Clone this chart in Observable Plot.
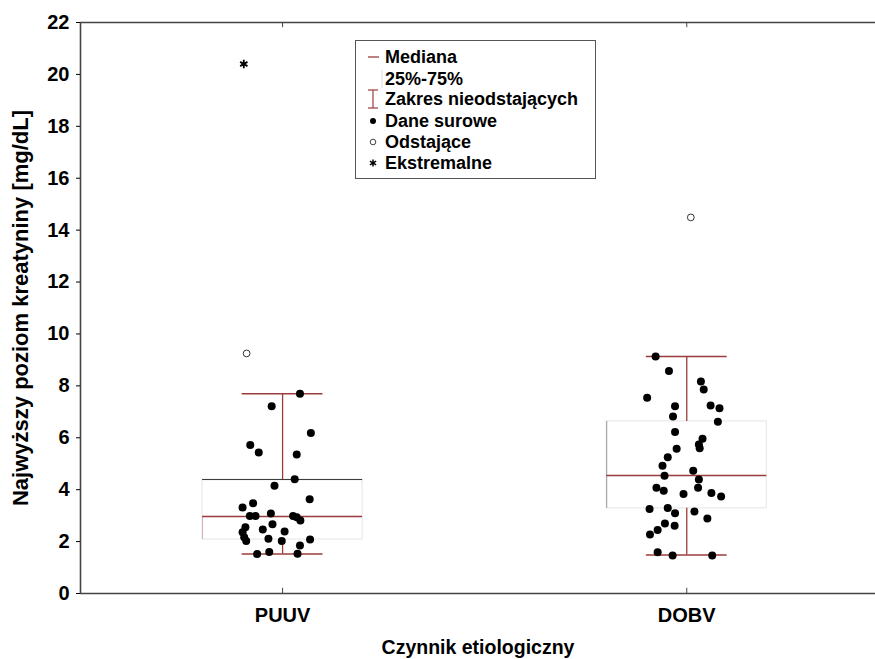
<!DOCTYPE html>
<html>
<head>
<meta charset="utf-8">
<script src="https://cdn.jsdelivr.net/npm/d3@7"></script>
<script src="https://cdn.jsdelivr.net/npm/@observablehq/plot@0.6"></script>
<style>
  html, body { margin: 0; padding: 0; background: #fff; }
  #wrap { position: relative; width: 875px; height: 659px; font-family: "Liberation Sans", Arial, sans-serif; }
  #wrap svg text { font-weight: bold; }
  #legend { position: absolute; left: 355px; top: 40px; width: 239px; height: 137px; border: 1.5px solid #555; background: #fff; }
</style>
</head>
<body>
<div id="wrap"></div>
<script>
// ---- data ----
const categories = ["PUUV", "DOBV"];
const median = [2.97, 4.55];
const q1 = [2.08, 3.28];
const q3 = [4.39, 6.63];
const whiskerLow = [1.52, 1.48];
const whiskerHigh = [7.70, 9.13];
const outlierValues = [9.25, 14.49];
const outlierJitter = [-0.089, 0.010];
const extremeValues = [20.4];
const extremeJitter = [-0.096];

const puuvValues = [7.70, 7.21, 6.18, 5.72, 5.43, 5.36, 4.40, 4.15, 3.63, 3.48, 3.31, 2.99, 2.99, 3.08, 2.99, 2.94, 2.81, 2.67, 2.55, 2.47, 2.39, 2.36, 2.17, 2.11, 2.02, 2.02, 2.08, 1.85, 1.52, 1.60, 1.53];
const puuvJitter = [0.043, -0.027, 0.070, -0.080, -0.059, 0.035, 0.030, -0.020, 0.067, -0.073, -0.099, -0.081, -0.067, -0.029, 0.026, 0.035, 0.044, -0.025, -0.092, -0.049, 0.005, -0.099, -0.095, -0.035, -0.090, -0.002, 0.068, 0.043, -0.063, -0.033, 0.037];
const dobvValues = [9.13, 8.57, 8.17, 7.86, 7.54, 7.21, 7.24, 7.14, 6.82, 6.62, 6.22, 5.96, 5.74, 5.60, 5.58, 5.25, 4.92, 4.54, 4.73, 4.39, 4.07, 4.07, 3.96, 3.83, 3.87, 3.74, 3.26, 3.29, 3.09, 3.16, 2.89, 2.70, 2.61, 2.45, 2.27, 1.59, 1.46, 1.46];
const dobvJitter = [-0.077, -0.044, 0.035, 0.042, -0.098, -0.029, 0.059, 0.081, -0.034, 0.077, -0.029, 0.039, 0.030, 0.032, -0.025, -0.047, -0.060, -0.055, 0.016, 0.030, 0.028, -0.075, -0.057, -0.008, 0.061, 0.085, -0.092, -0.047, -0.029, 0.019, 0.051, -0.054, -0.030, -0.072, -0.091, -0.072, -0.035, 0.063];
const yTicks = [0, 2, 4, 6, 8, 10, 12, 14, 16, 18, 20, 22];

// ---- tables ----
const stats = categories.map((c, i) => ({
  cat: c, pos: i + 1, median: median[i], q1: q1[i], q3: q3[i], lo: whiskerLow[i], hi: whiskerHigh[i]
}));
const raw = [
  ...puuvValues.map((v, i) => ({ pos: 1 + puuvJitter[i], v })),
  ...dobvValues.map((v, i) => ({ pos: 2 + dobvJitter[i], v }))
];
const outliers = outlierValues.map((v, i) => ({ pos: i + 1 + outlierJitter[i], v }));
const extremes = extremeValues.map((v, i) => ({ pos: i + 1 + extremeJitter[i], v }));

const RED = "#9c3b3b";
const BOXW = 0.198, CAPW = 0.1;

const chart = Plot.plot({
  width: 875,
  height: 659,
  marginLeft: 80,
  marginRight: 0,
  marginTop: 22,
  marginBottom: 66,
  style: { fontFamily: "'Liberation Sans', Arial, sans-serif", color: "#000", background: "#fff" },
  x: { domain: [0.5, 2.467] },
  y: { domain: [0, 22] },
  marks: [
    // boxes
    Plot.rect(stats, { x1: d => d.pos - BOXW, x2: d => d.pos + BOXW, y1: "q1", y2: "q3", fill: "#fff", stroke: "#e4e4e4", strokeWidth: 1 }),
    Plot.ruleY(stats.filter(d => d.cat === "PUUV"), { y: "q3", x1: d => d.pos - BOXW, x2: d => d.pos + BOXW, stroke: "#333", strokeWidth: 1 }),
    Plot.ruleX(stats.filter(d => d.cat === "DOBV"), { x: d => d.pos - BOXW, y1: "q1", y2: "q3", stroke: "#999", strokeWidth: 1 }),
    Plot.ruleX(stats.filter(d => d.cat === "PUUV"), { x: d => d.pos - BOXW, y1: "q1", y2: "median", stroke: "#d8b0b0", strokeWidth: 1 }),
    // whiskers
    Plot.ruleX(stats, { x: "pos", y1: "q3", y2: "hi", stroke: RED, strokeWidth: 1.3 }),
    Plot.ruleX(stats, { x: "pos", y1: "lo", y2: "q1", stroke: RED, strokeWidth: 1.3 }),
    Plot.ruleY(stats, { y: "hi", x1: d => d.pos - CAPW, x2: d => d.pos + CAPW, stroke: RED, strokeWidth: 1.5 }),
    Plot.ruleY(stats, { y: "lo", x1: d => d.pos - CAPW, x2: d => d.pos + CAPW, stroke: RED, strokeWidth: 1.5 }),
    // median
    Plot.ruleY(stats, { y: "median", x1: d => d.pos - BOXW, x2: d => d.pos + BOXW, stroke: RED, strokeWidth: 1.5 }),
    // raw data
    Plot.dot(raw, { x: "pos", y: "v", r: 4, fill: "#000", stroke: "none" }),
    Plot.dot(outliers, { x: "pos", y: "v", r: 3.4, fill: "#fff", stroke: "#333", strokeWidth: 1 }),
    Plot.dot(extremes, { x: "pos", y: "v", r: 4, symbol: "asterisk", stroke: "#000", strokeWidth: 1.8 }),
    // frame
    Plot.ruleY([0], { stroke: "#444", strokeWidth: 1.6 }),
    Plot.ruleY([22], { stroke: "#444", strokeWidth: 1.6 }),
    Plot.ruleX([0.5], { stroke: "#444", strokeWidth: 1.6 }),
    // inward category ticks
    Plot.ruleX(stats, { x: "pos", y1: 0, y2: 0.2, stroke: "#444" }),
    Plot.ruleX(stats, { x: "pos", y1: 21.8, y2: 22, stroke: "#444" }),
    // axes
    Plot.axisY({
      ticks: yTicks, tickSize: 4, tickPadding: 7, fontSize: 20,
      label: "Najwyższy poziom kreatyniny [mg/dL]", labelAnchor: "center", labelArrow: "none", labelOffset: 68
    }),
    Plot.axisX({
      ticks: [1, 2], tickFormat: d => categories[d - 1], tickSize: 0, tickPadding: 14, fontSize: 20,
      label: "Czynnik etiologiczny", labelAnchor: "center", labelArrow: "none", labelOffset: 60
    })
  ]
});
chart.querySelectorAll("text").forEach(t => t.setAttribute("fill", "#000"));
chart.querySelectorAll('[aria-label="y-axis label"] text, [aria-label="y-axis label"]').forEach(t => t.setAttribute("font-size", 22));
chart.querySelectorAll('[aria-label="x-axis label"] text, [aria-label="x-axis label"]').forEach(t => t.setAttribute("font-size", 19.5));
document.getElementById("wrap").appendChild(chart);

// ---- legend ----
const legendItems = ["Mediana", "25%-75%", "Zakres nieodstających", "Dane surowe", "Odstające", "Ekstremalne"];
const leg = document.createElement("div");
leg.id = "legend";
const ns = "http://www.w3.org/2000/svg";
const ls = document.createElementNS(ns, "svg");
ls.setAttribute("width", 239); ls.setAttribute("height", 137);
ls.style.display = "block";
const rowY = [16, 38, 58, 80, 101, 122];
function el(name, attrs) {
  const e = document.createElementNS(ns, name);
  for (const k in attrs) e.setAttribute(k, attrs[k]);
  ls.appendChild(e); return e;
}
// symbols
el("line", { x1: 12, x2: 23, y1: rowY[0], y2: rowY[0], stroke: RED, "stroke-width": 1.3 });
el("line", { x1: 26, x2: 26, y1: rowY[1] - 9, y2: rowY[1] + 9, stroke: "#ddd", "stroke-width": 1 });
el("line", { x1: 17, x2: 17, y1: rowY[2] - 9, y2: rowY[2] + 9, stroke: RED, "stroke-width": 1.2 });
el("line", { x1: 12, x2: 22, y1: rowY[2] - 9, y2: rowY[2] - 9, stroke: RED, "stroke-width": 1.2 });
el("line", { x1: 12, x2: 22, y1: rowY[2] + 9, y2: rowY[2] + 9, stroke: RED, "stroke-width": 1.2 });
el("circle", { cx: 17, cy: rowY[3], r: 3, fill: "#000" });
el("circle", { cx: 17, cy: rowY[4], r: 2.8, fill: "#fff", stroke: "#444", "stroke-width": 1 });
el("path", { transform: `translate(17,${rowY[5]})`, d: d3.symbol(d3.symbolAsterisk, 36)(), stroke: "#000", "stroke-width": 1.5, fill: "none" });
legendItems.forEach((t, i) => {
  const tx = el("text", { x: 29, y: rowY[i], dy: "0.36em", "font-size": 18, "font-weight": "bold", "font-family": "'Liberation Sans', Arial, sans-serif", fill: "#000" });
  tx.textContent = t;
});
leg.appendChild(ls);
document.getElementById("wrap").appendChild(leg);
</script>
</body>
</html>
